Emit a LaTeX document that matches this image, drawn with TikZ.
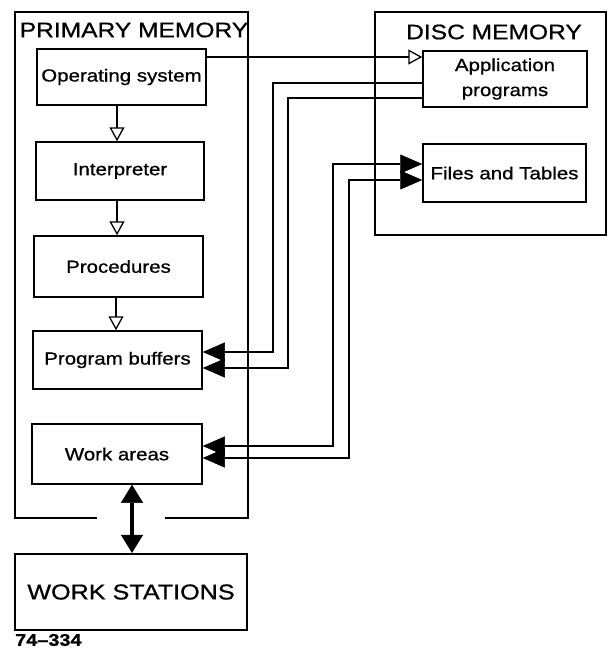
\documentclass[tikz,border=0pt]{standalone}
\usepackage{fontspec}
\setmainfont{Liberation Sans}
\newfontfamily\df[FakeStretch=1.17, FakeBold=0.8]{Liberation Sans}
\usetikzlibrary{arrows.meta}
\begin{document}
\begin{tikzpicture}[x=1pt,y=-1pt,
  inbox/.style={draw, line width=1.5pt, inner sep=0pt, align=center, font=\df\fontsize{17.5}{25}\selectfont},
  outerbox/.style={draw, line width=2.6pt, inner sep=0pt},
  titletext/.style={font=\df\fontsize{21}{21}\selectfont, inner sep=0pt},
  conn/.style={line width=1.3pt},
  openarr/.style={conn, -{Triangle[open, length=14pt, width=15pt, line width=1.3pt]}},
  fillarr/.style={conn, -{Triangle[length=22pt, width=19pt, line width=0.5pt]}},
  bothfill/.style={conn, {Triangle[length=22pt, width=19pt, line width=0.5pt]}-{Triangle[length=22pt, width=19pt, line width=0.5pt]}},
  thickboth/.style={line width=4.8pt, {Triangle[length=18pt, width=22pt, line width=0.5pt]}-{Triangle[length=18pt, width=22pt, line width=0.5pt]}},
]
\useasboundingbox (0,0) rectangle (608,649);
\fill[white] (0,0) rectangle (608,649);

% primary memory frame (gap at bottom)
\draw[line width=2.6pt, line join=miter] (97,518) -- (15,518) -- (15,12) -- (248,12) -- (248,518) -- (165,518);
\node[titletext] (pmt) at (134,30) {PRIMARY MEMORY};

% disc memory frame
\node[outerbox, minimum width=231pt, minimum height=223pt] (disc) at (490.5,123.5) {};
\node[titletext] (dmt) at (494,32) {DISC MEMORY};

% inner boxes
\node[inbox, minimum width=169pt, minimum height=56pt] (os) at (121.5,77) {Operating system};
\node[inbox, minimum width=168pt, minimum height=58pt] (interp) at (120,171) {Interpreter};
\node[inbox, minimum width=169pt, minimum height=61pt] (proc) at (118.5,266.5) {Procedures};
\node[inbox, minimum width=169pt, minimum height=58pt] (pb) at (117.5,360) {Program buffers};
\node[inbox, minimum width=170pt, minimum height=60pt] (wa) at (117,454) {Work areas};
\node[inbox, minimum width=164pt, minimum height=56pt] (app) at (505,79) {Application\\programs};
\node[inbox, minimum width=163pt, minimum height=58pt] (files) at (504.5,173) {Files and Tables};

% work stations
\node[outerbox, line width=2.2pt, minimum width=232pt, minimum height=76pt, font=\df\fontsize{21.5}{22}\selectfont] (ws) at (131,592) {WORK STATIONS};
\node[font=\df\bfseries\fontsize{17}{17}\selectfont, anchor=west, inner sep=0pt] (code) at (15,640) {74–334};

% vertical flow
\draw[openarr] (os.south -| 117,0) -- (interp.north -| 117,0);
\draw[openarr] (interp.south -| 117,0) -- (proc.north -| 117,0);
\draw[openarr] (proc.south -| 116,0) -- (pb.north -| 116,0);

% OS to application programs
\draw[openarr] (os.east |- 0,57) -- (app.west |- 0,57);

% application programs to program buffers
\draw[fillarr] (app.west |- 0,83) -| (273,352) -- (pb.east |- 0,352);
\draw[fillarr] (app.west |- 0,98) -| (288,368) -- (pb.east |- 0,368);

% files and tables <-> work areas
\draw[bothfill] (files.west |- 0,164) -| (333,446) -- (wa.east |- 0,446);
\draw[bothfill] (files.west |- 0,180) -| (349,458) -- (wa.east |- 0,458);

% work areas <-> work stations
\draw[thickboth] (wa.south -| 132,0) -- (ws.north -| 132,0);
\end{tikzpicture}
\end{document}
